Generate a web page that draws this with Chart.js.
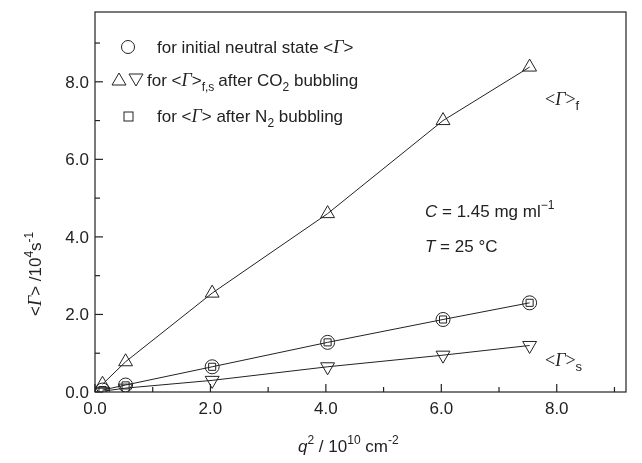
<!DOCTYPE html>
<html><head><meta charset="utf-8">
<script src="https://cdn.jsdelivr.net/npm/chart.js@4"></script>
<style>body{margin:0;background:#fff}#wrap{width:642px;height:463px}</style>
</head><body><div id="wrap"><canvas id="c"></canvas></div>
<script>
const qSq = [0.13, 0.53, 2.03, 4.03, 6.03, 7.53];
const gammaFast = [0.2, 0.78, 2.55, 4.6, 7.0, 8.38];
const gammaInit = [0.05, 0.18, 0.65, 1.28, 1.87, 2.3];
const gammaN2 = [0.05, 0.17, 0.65, 1.28, 1.87, 2.3];
const gammaSlow = [0.02, 0.1, 0.3, 0.65, 0.95, 1.2];
const xTicks = [0, 2, 4, 6, 8];
const yTicks = [0, 2, 4, 6, 8];

function pts(ys){ return qSq.map((x,i)=>({x:x, y:ys[i]})) }

const SANS = '"Liberation Sans", Arial, sans-serif';
const SERIF = '"Liberation Serif", "Times New Roman", serif';
const F = '17px ' + SANS, FS = '12px ' + SANS;

// draw a run of [text, font, dy] pieces
function run(ctx, x, y, parts){
  for (const p of parts){
    ctx.font = p[1];
    ctx.fillText(p[0], x, y + (p[2]||0));
    x += ctx.measureText(p[0]).width;
  }
  return x;
}
function gam(size){ return 'italic ' + size + 'px ' + SERIF }

const deco = {
  id: 'deco',
  afterDraw(chart){
    const ctx = chart.ctx, xs = chart.scales.x, ys = chart.scales.y, a = chart.chartArea;
    ctx.save();
    ctx.strokeStyle = '#222'; ctx.lineWidth = 1.2;
    ctx.strokeRect(a.left, a.top, a.right - a.left, a.bottom - a.top);
    // inward ticks
    for (let v = 0; v <= 9; v++){
      const px = xs.getPixelForValue(v), len = v % 2 ? 5 : 8;
      ctx.beginPath(); ctx.moveTo(px, a.bottom); ctx.lineTo(px, a.bottom - len); ctx.stroke();
      const py = ys.getPixelForValue(v);
      ctx.beginPath(); ctx.moveTo(a.left, py); ctx.lineTo(a.left + len, py); ctx.stroke();
    }
    ctx.fillStyle = '#222'; ctx.textBaseline = 'alphabetic';
    ctx.textAlign = 'center'; ctx.font = F;
    xTicks.forEach(v => ctx.fillText(v.toFixed(1), xs.getPixelForValue(v), a.bottom + 22));
    ctx.textAlign = 'right';
    yTicks.forEach(v => ctx.fillText(v.toFixed(1), a.left - 6, ys.getPixelForValue(v) + 6));
    ctx.textAlign = 'left';
    // x title
    run(ctx, 298, 452, [['q', 'italic ' + F], ['2', FS, -8], [' / 10', F], ['10', FS, -8], [' cm', F], ['-2', FS, -8]]);
    // y title
    ctx.save(); ctx.translate(41, 316); ctx.rotate(-Math.PI/2);
    run(ctx, 0, 0, [['<', F], ['Γ', gam(18)], ['> /10', F], ['4', FS, -8], ['s', F], ['-1', FS, -8]]);
    ctx.restore();
    // legend
    ctx.lineWidth = 1;
    ctx.beginPath(); ctx.arc(128, 47, 6.5, 0, Math.PI*2); ctx.stroke();
    run(ctx, 157, 53, [['for initial neutral state <', F], ['Γ', gam(18)], ['>', F]]);
    ctx.beginPath(); ctx.moveTo(112, 85); ctx.lineTo(119, 73); ctx.lineTo(126, 85); ctx.closePath(); ctx.stroke();
    ctx.beginPath(); ctx.moveTo(129, 74); ctx.lineTo(143, 74); ctx.lineTo(136, 86); ctx.closePath(); ctx.stroke();
    let xe = run(ctx, 147, 86, [['for <', F], ['Γ', gam(18)], ['>', F], ['f,s', FS, 5]]);
    run(ctx, xe + 4, 86, [['after CO', F], ['2', FS, 5], [' bubbling', F]]);
    ctx.strokeRect(124, 112, 9, 9);
    run(ctx, 157, 122, [['for <', F], ['Γ', gam(18)], ['> after N', F], ['2', FS, 5], [' bubbling', F]]);
    // annotations
    run(ctx, 545, 105, [['<', '18px ' + SERIF], ['Γ', gam(18)], ['>', '18px ' + SERIF], ['f', '13px ' + SANS, 5]]);
    run(ctx, 545, 366, [['<', '18px ' + SERIF], ['Γ', gam(18)], ['>', '18px ' + SERIF], ['s', '13px ' + SANS, 5]]);
    run(ctx, 425, 217, [['C', 'italic ' + F], [' = 1.45 mg ml', F], ['−1', FS, -8]]);
    run(ctx, 425, 252, [['T', 'italic ' + F], [' = 25 °C', F]]);
    ctx.restore();
  }
};

function ds(ys, style, rot, line, r){
  return { data: pts(ys), pointStyle: style, rotation: rot, pointRadius: r, borderColor: '#222',
    backgroundColor: 'rgba(0,0,0,0)', pointBackgroundColor: 'rgba(0,0,0,0)', borderWidth: 1,
    showLine: line, tension: 0 };
}

new Chart(document.getElementById('c'), {
  type: 'scatter',
  data: { datasets: [
    ds(gammaFast, 'triangle', 0, true, 8),
    ds(gammaInit, 'circle', 0, true, 7),
    ds(gammaN2, 'rect', 0, false, 5),
    ds(gammaSlow, 'triangle', 180, true, 8)
  ]},
  options: {
    responsive: true, maintainAspectRatio: false, animation: false,
    layout: { padding: { left: 95, top: 12, right: 16, bottom: 71 } },
    plugins: { legend: { display: false }, tooltip: { enabled: false } },
    scales: {
      x: { type: 'linear', min: 0, max: 9.2, display: false },
      y: { type: 'linear', min: 0, max: 9.8, display: false }
    }
  },
  plugins: [deco]
});
</script></body></html>
